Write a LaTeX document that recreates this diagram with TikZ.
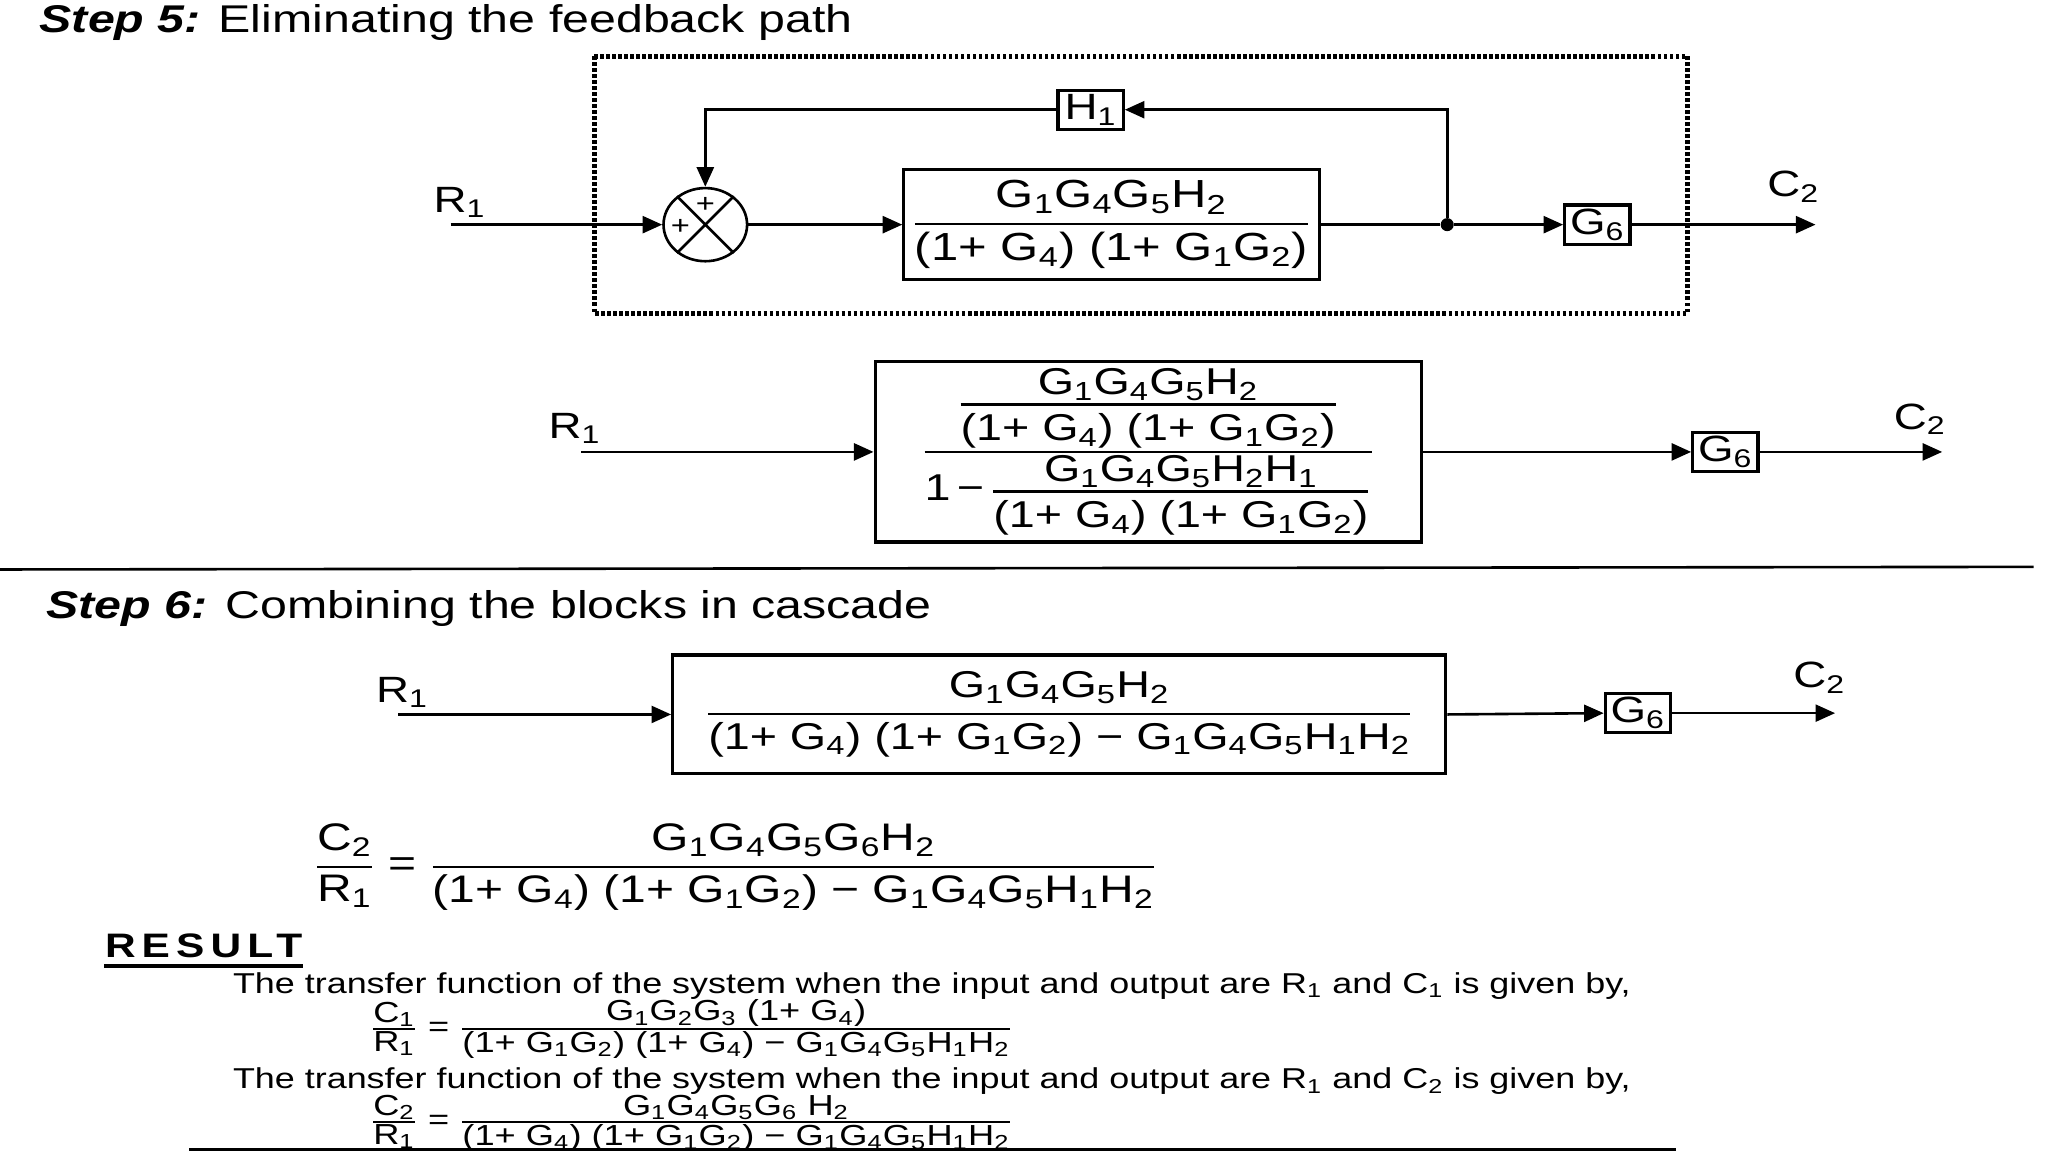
\documentclass[tikz,border=0pt]{standalone}
\usepackage{amsmath}
\usepackage{fontspec}
\setmainfont{Liberation Sans}[FakeStretch=1.25]
\usetikzlibrary{arrows.meta,shapes.geometric}
\newcommand\ssb[1]{\textsubscript{#1}}
\newcommand\fr[2]{\genfrac{}{}{0.9pt}{0}{\mbox{#1}}{\mbox{#2}}}
\newcommand\frt[2]{\genfrac{}{}{0.9pt}{1}{\mbox{#1\rule[-2.5pt]{0pt}{1pt}}}{\mbox{\rule{0pt}{12.5pt}#2}}}
\newcommand\frs[2]{\genfrac{}{}{0.6pt}{1}{\mbox{#1}}{\mbox{#2}}}
\newcommand\fsz[1]{\fontsize{#1}{#1}\selectfont}
\begin{document}
\begin{tikzpicture}[x=0.5pt,y=-0.5pt,
  blk/.style={draw,line width=1.2pt,inner sep=0pt},
  gbox/.style={draw,line width=1.2pt,inner sep=0pt,minimum width=25pt,minimum height=15pt,font=\fsz{14}},
  lab/.style={inner sep=0pt,font=\fsz{14}},
  conn/.style={line width=1pt,-{Triangle[length=7.5pt,width=6.5pt]}},
  wire/.style={line width=1pt},
  ttl/.style={anchor=west,inner sep=0pt,font=\fsz{14.8}},
  txt/.style={anchor=west,inner sep=0pt,font=\fsz{11}},
  sumj/.style={ellipse,draw,line width=1pt,minimum width=32pt,minimum height=28pt,inner sep=0pt},
  plus/.style={inner sep=0pt,font=\fsz{10}}]
\fill[white] (0,0) rectangle (1568,882);
\useasboundingbox (0,0) rectangle (1568,882);

% ---------- Step 5, first diagram ----------
\node[ttl] (t5) at (30,17) {\textbf{\textit{Step 5:}} Eliminating the feedback path};
\draw[line width=2pt,dash pattern=on 1.4pt off 0.9pt] (455,43) rectangle (1292,240);
\node[sumj] (sum) at (540,172) {};
\draw[wire] (sum.45) -- (sum.225) (sum.135) -- (sum.-45);
\node[plus] (p1) at (540,157) {+};
\node[plus] (p2) at (521,174) {+};
\node[blk,minimum width=159pt,minimum height=42pt,font=\fsz{15}] (b1) at (851,172)
  {$\fr{G\ssb1G\ssb4G\ssb5H\ssb2}{(1+ G\ssb4) (1+ G\ssb1G\ssb2)}$};
\node[gbox] (h1) at (835,84) {H\ssb1};
\node[gbox] (g6a) at (1223,172) {G\ssb6};
\node[circle,fill,inner sep=0pt,minimum size=5pt] (dot) at (1108,172) {};
\coordinate (in1) at (345,172);
\coordinate (out1) at (1390,172);
\node[lab] (r1a) at (352,155) {R\ssb1};
\node[lab] (c2a) at (1373,143) {C\ssb2};
\draw[conn] (in1) -- (sum.west);
\draw[conn] (sum.east) -- (b1.west);
\draw[wire] (b1.east) -- (dot);
\draw[conn] (dot) -- (g6a.west);
\draw[conn] (g6a.east) -- (out1);
\draw[conn] (dot) -- (dot |- h1) -- (h1.east);
\draw[conn] (h1.west) -- (sum |- h1) -- (sum.north);

% ---------- Step 5, second diagram ----------
\node[blk,minimum width=209pt,minimum height=69pt,font=\fsz{14.3}] (b2) at (879,346)
  {$\genfrac{}{}{0.9pt}{1}{\frt{G\ssb1G\ssb4G\ssb5H\ssb2}{(1+ G\ssb4) (1+ G\ssb1G\ssb2)}}{\mbox{1\,−\,}\frt{G\ssb1G\ssb4G\ssb5H\ssb2H\ssb1}{(1+ G\ssb4) (1+ G\ssb1G\ssb2)}}$};
\node[gbox] (g6b) at (1321,346) {G\ssb6};
\coordinate (in2) at (445,346);
\coordinate (out2) at (1487,346);
\node[lab] (r1b) at (440,328) {R\ssb1};
\node[lab] (c2b) at (1470,321) {C\ssb2};
\draw[conn] (in2) -- (b2.west);
\draw[conn] (b2.east) -- (g6b.west);
\draw[conn] (g6b.east) -- (out2);

\draw[line width=1pt] (0,436) -- (1557,434);

% ---------- Step 6 ----------
\node[ttl] (t6) at (35,466) {\textbf{\textit{Step 6:}} Combining the blocks in cascade};
\node[blk,minimum width=296pt,minimum height=45.5pt,font=\fsz{14.3}] (b3) at (811,547)
  {$\fr{G\ssb1G\ssb4G\ssb5H\ssb2}{(1+ G\ssb4) (1+ G\ssb1G\ssb2) − G\ssb1G\ssb4G\ssb5H\ssb1H\ssb2}$};
\node[gbox] (g6c) at (1254,546) {G\ssb6};
\coordinate (in3) at (305,547);
\coordinate (out3) at (1405,546);
\node[lab] (r1c) at (308,530) {R\ssb1};
\node[lab] (c2c) at (1393,519) {C\ssb2};
\draw[conn] (in3) -- (b3.west);
\draw[conn] (b3.east) -- (g6c.west);
\draw[conn] (g6c.east) -- (out3);

\node[anchor=west,inner sep=0pt,font=\fsz{14.7}] (eq) at (240,664)
  {$\fr{C\ssb2}{R\ssb1}\mbox{ = }\fr{G\ssb1G\ssb4G\ssb5G\ssb6H\ssb2}{(1+ G\ssb4) (1+ G\ssb1G\ssb2) − G\ssb1G\ssb4G\ssb5H\ssb1H\ssb2}$};

% ---------- Result ----------
\node[anchor=west,inner sep=0pt,font=\fsz{13}\bfseries\addfontfeature{LetterSpace=18}] (res) at (80,724) {RESULT};
\draw[line width=1.2pt] ([yshift=-3pt]res.south west) -- ([yshift=-3pt]res.south east);
\node[txt] (l1) at (178,755) {The transfer function of the system when the input and output are R\ssb1 and C\ssb1 is given by,};
\node[anchor=west,inner sep=0pt,font=\fsz{11.1}] (e1) at (283,788)
  {$\frs{C\ssb1}{R\ssb1}\mbox{ = }\frs{G\ssb1G\ssb2G\ssb3 (1+ G\ssb4)}{(1+ G\ssb1G\ssb2) (1+ G\ssb4) − G\ssb1G\ssb4G\ssb5H\ssb1H\ssb2}$};
\node[txt] (l2) at (178,828) {The transfer function of the system when the input and output are R\ssb1 and C\ssb2 is given by,};
\node[anchor=west,inner sep=0pt,font=\fsz{11.1}] (e2) at (283,860)
  {$\frs{C\ssb2}{R\ssb1}\mbox{ = }\frs{G\ssb1G\ssb4G\ssb5G\ssb6 H\ssb2}{(1+ G\ssb4) (1+ G\ssb1G\ssb2) − G\ssb1G\ssb4G\ssb5H\ssb1H\ssb2}$};
\draw[line width=1pt] (145,880) -- (1283,880);
\end{tikzpicture}
\end{document}
